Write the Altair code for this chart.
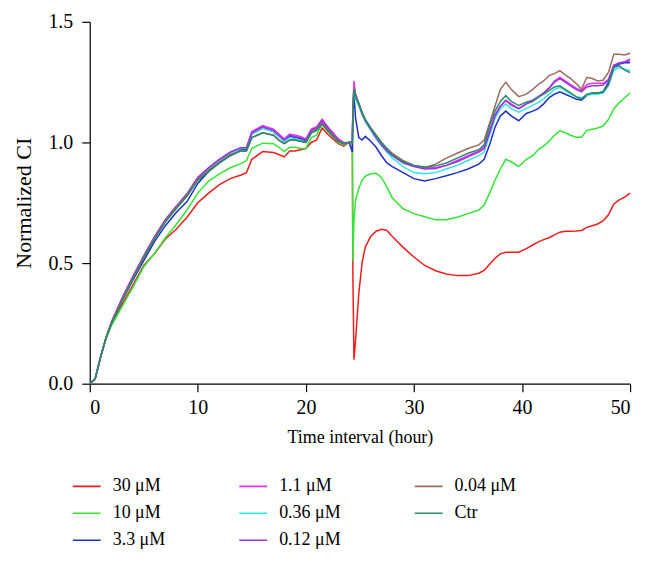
import altair as alt
import pandas as pd

# time grid (hours)
T = [0, 0.5, 1, 1.5, 2, 3, 4, 5, 6, 7, 8, 9, 10, 11, 12, 13, 14, 14.5, 15, 16, 17, 17.5, 18, 18.5, 19, 19.5,
     20, 20.5, 21, 21.5, 22, 22.5, 23, 23.5, 24, 24.3,
     24.35, 24.45, 24.6, 24.9, 25.2, 25.5, 26, 26.5, 27, 27.5, 28, 29, 30, 31, 32, 33, 34, 35, 36, 36.5,
     37, 37.5, 38, 38.5, 39, 39.7, 40.4, 41, 41.5, 42, 42.5, 43, 43.5, 44, 44.5, 45, 45.5, 46, 46.5,
     47, 47.5, 48, 48.5, 49, 49.5, 50]

s30 = [0, 0.02, 0.11, 0.185, 0.245, 0.33, 0.41, 0.49, 0.54, 0.60, 0.64, 0.69, 0.75, 0.79, 0.825, 0.85, 0.865, 0.875,
       0.93, 0.962, 0.958, 0.95, 0.94, 0.965, 0.965, 0.97, 0.975, 1.0, 1.01, 1.06, 1.035, 1.015, 0.995, 0.985, 1.0, 1.0,
       0.45, 0.10, 0.18, 0.375, 0.50, 0.567, 0.61, 0.632, 0.64, 0.635, 0.61, 0.565, 0.525, 0.49, 0.468, 0.455, 0.448,
       0.448, 0.458, 0.47, 0.495, 0.52, 0.538, 0.545, 0.545, 0.545, 0.56, 0.575, 0.588, 0.597, 0.605, 0.617, 0.628,
       0.632, 0.632, 0.633, 0.635, 0.648, 0.655, 0.662, 0.675, 0.70, 0.745, 0.762, 0.773, 0.79]
s10 = [0, 0.02, 0.11, 0.185, 0.24, 0.32, 0.40, 0.485, 0.54, 0.605, 0.66, 0.72, 0.79, 0.84, 0.87, 0.895, 0.912, 0.925,
       0.975, 0.997, 0.995, 0.98, 0.962, 0.98, 0.98, 0.975, 0.975, 1.02, 1.03, 1.08, 1.045, 1.025, 1.0, 0.99, 1.0, 1.0,
       0.51, 0.68, 0.76, 0.81, 0.843, 0.86, 0.87, 0.872, 0.855, 0.815, 0.77, 0.725, 0.705, 0.692, 0.68, 0.68, 0.69,
       0.705, 0.72, 0.74, 0.79, 0.843, 0.89, 0.93, 0.92, 0.90, 0.93, 0.945, 0.97, 0.985, 1.005, 1.03, 1.048, 1.04,
       1.03, 1.022, 1.022, 1.05, 1.055, 1.06, 1.068, 1.095, 1.14, 1.165, 1.185, 1.205]
s3_3 = [0, 0.02, 0.11, 0.19, 0.25, 0.345, 0.43, 0.51, 0.59, 0.655, 0.71, 0.755, 0.83, 0.88, 0.915, 0.945, 0.97, 0.97,
        1.035, 1.06, 1.045, 1.025, 1.005, 1.025, 1.02, 1.015, 1.005, 1.05, 1.06, 1.095, 1.065, 1.04, 1.01, 0.995, 1.0, 0.96,
        1.10, 1.20, 1.10, 1.02, 1.01, 1.025, 1.005, 0.98, 0.945, 0.915, 0.90, 0.875, 0.85, 0.84, 0.85, 0.862, 0.875,
        0.89, 0.91, 0.93, 0.99, 1.063, 1.11, 1.13, 1.11, 1.09, 1.12, 1.13, 1.14, 1.16, 1.185, 1.20, 1.21, 1.20,
        1.19, 1.18, 1.175, 1.195, 1.205, 1.205, 1.21, 1.25, 1.315, 1.325, 1.33, 1.33]
s1_1 = [0, 0.02, 0.11, 0.19, 0.255, 0.355, 0.445, 0.53, 0.61, 0.68, 0.735, 0.787, 0.855, 0.895, 0.93, 0.96, 0.978, 0.978,
        1.045, 1.07, 1.055, 1.035, 1.015, 1.035, 1.03, 1.025, 1.015, 1.055, 1.065, 1.095, 1.065, 1.04, 1.015, 1.0, 1.0, 1.0,
        1.15, 1.255, 1.20, 1.16, 1.12, 1.09, 1.055, 1.025, 0.995, 0.97, 0.95, 0.92, 0.905, 0.895, 0.895, 0.905, 0.925,
        0.945, 0.965, 0.985, 1.05, 1.115, 1.15, 1.175, 1.16, 1.14, 1.16, 1.175, 1.19, 1.205, 1.225, 1.255, 1.27, 1.255,
        1.24, 1.225, 1.215, 1.24, 1.245, 1.245, 1.245, 1.26, 1.32, 1.33, 1.335, 1.345]
s0_36 = [0, 0.02, 0.11, 0.19, 0.25, 0.35, 0.44, 0.525, 0.605, 0.675, 0.73, 0.782, 0.85, 0.89, 0.925, 0.955, 0.975, 0.975,
         1.035, 1.06, 1.045, 1.025, 1.005, 1.02, 1.015, 1.01, 1.0, 1.04, 1.05, 1.075, 1.05, 1.03, 1.005, 0.995, 1.0, 1.0,
         1.12, 1.21, 1.18, 1.15, 1.115, 1.085, 1.05, 1.015, 0.985, 0.96, 0.935, 0.90, 0.875, 0.87, 0.875, 0.89, 0.905,
         0.925, 0.945, 0.96, 1.03, 1.10, 1.14, 1.16, 1.14, 1.125, 1.14, 1.155, 1.165, 1.18, 1.20, 1.22, 1.228, 1.215,
         1.20, 1.19, 1.185, 1.195, 1.20, 1.20, 1.205, 1.235, 1.30, 1.31, 1.305, 1.298]
s0_12 = [0, 0.02, 0.11, 0.19, 0.255, 0.355, 0.445, 0.53, 0.61, 0.68, 0.735, 0.787, 0.855, 0.895, 0.93, 0.96, 0.978, 0.978,
         1.04, 1.065, 1.05, 1.03, 1.01, 1.03, 1.025, 1.02, 1.01, 1.05, 1.06, 1.09, 1.06, 1.035, 1.01, 0.995, 1.0, 1.0,
         1.13, 1.225, 1.195, 1.16, 1.12, 1.09, 1.055, 1.02, 0.99, 0.965, 0.945, 0.915, 0.90, 0.89, 0.892, 0.905, 0.92,
         0.94, 0.96, 0.975, 1.04, 1.11, 1.15, 1.174, 1.155, 1.14, 1.16, 1.17, 1.187, 1.205, 1.225, 1.25, 1.265, 1.25,
         1.235, 1.22, 1.21, 1.23, 1.235, 1.235, 1.238, 1.26, 1.32, 1.328, 1.333, 1.34]
s0_04 = [0, 0.02, 0.11, 0.19, 0.25, 0.35, 0.44, 0.525, 0.605, 0.675, 0.73, 0.782, 0.848, 0.885, 0.92, 0.95, 0.965, 0.965,
         1.02, 1.04, 1.03, 1.01, 0.995, 1.01, 1.01, 1.005, 1.0, 1.04, 1.055, 1.08, 1.055, 1.03, 1.005, 0.995, 1.0, 1.0,
         1.12, 1.23, 1.20, 1.16, 1.125, 1.095, 1.06, 1.03, 1.0, 0.975, 0.955, 0.925, 0.905, 0.895, 0.91, 0.935, 0.955,
         0.975, 0.99, 1.01, 1.08, 1.15, 1.22, 1.25, 1.22, 1.19, 1.20, 1.22, 1.24, 1.255, 1.277, 1.285, 1.298, 1.28,
         1.265, 1.245, 1.22, 1.27, 1.265, 1.255, 1.258, 1.29, 1.366, 1.366, 1.363, 1.37]
ctr = [0, 0.02, 0.11, 0.19, 0.25, 0.345, 0.435, 0.52, 0.60, 0.67, 0.725, 0.777, 0.843, 0.88, 0.915, 0.945, 0.965, 0.965,
       1.02, 1.04, 1.03, 1.01, 0.995, 1.01, 1.01, 1.005, 1.0, 1.04, 1.05, 1.075, 1.05, 1.025, 1.005, 0.995, 1.0, 1.0,
       1.13, 1.22, 1.19, 1.16, 1.125, 1.095, 1.06, 1.03, 1.0, 0.975, 0.95, 0.92, 0.905, 0.898, 0.903, 0.915, 0.935,
       0.955, 0.97, 0.99, 1.07, 1.13, 1.17, 1.194, 1.17, 1.153, 1.167, 1.175, 1.187, 1.20, 1.215, 1.23, 1.235, 1.22,
       1.205, 1.19, 1.18, 1.20, 1.205, 1.205, 1.208, 1.24, 1.31, 1.318, 1.30, 1.29]

series_names = ["30 μM", "10 μM", "3.3 μM", "1.1 μM", "0.36 μM", "0.12 μM", "0.04 μM", "Ctr"]
series_values = [s30, s10, s3_3, s1_1, s0_36, s0_12, s0_04, ctr]
series_colors = ["#f01c1c", "#33e633", "#1f2ec4", "#ee33ee", "#33e6e6", "#9433e0", "#9c6a5e", "#2a8a6c"]

rows = []
for name, vals in zip(series_names, series_values):
    for t, v in zip(T, vals):
        rows.append({"t": t, "v": v, "series": name})
df = pd.DataFrame(rows)

FONT = "Liberation Serif"

x = alt.X("t:Q", title="Time interval (hour)",
          scale=alt.Scale(domain=[0, 50], nice=False),
          axis=alt.Axis(values=[0, 10, 20, 30, 40, 50], format="d", labelPadding=6,
                        titlePadding=11, titleFontSize=18))
y = alt.Y("v:Q", title="Normalized CI",
          scale=alt.Scale(domain=[0, 1.5], nice=False),
          axis=alt.Axis(values=[0, 0.5, 1.0, 1.5], format=".1f", labelPadding=9,
                        titlePadding=12, titleFontSize=22))
color = alt.Color("series:N", title=None,
                  scale=alt.Scale(domain=series_names, range=series_colors),
                  legend=alt.Legend(orient="none", legendX=-18, legendY=457, columns=3,
                                    columnPadding=73, rowPadding=9, clipHeight=18,
                                    symbolType="stroke", symbolSize=784, symbolStrokeWidth=1.6,
                                    labelOffset=11, padding=0))

layers = []
for name in series_names:
    layers.append(
        alt.Chart(df).transform_filter(alt.datum.series == name)
        .mark_line(strokeWidth=1.5)
        .encode(x=x, y=y, color=color)
    )

chart = alt.layer(*layers).properties(
    width=542, height=363,
    padding={"left": 82, "top": 13, "right": 20, "bottom": 180},
    autosize="none",
).configure_view(stroke=None).configure_axis(
    grid=False, domainColor="#000", tickColor="#000", domainWidth=1.2, tickWidth=1.2,
    tickSize=8, labelFont=FONT, titleFont=FONT, labelFontSize=20,
    labelColor="#000", titleColor="#000", titleFontWeight="normal",
).configure_legend(
    labelFont=FONT, labelFontSize=18, labelColor="#000"
)

chart.save("out.html", embed_options={"renderer": "svg", "actions": False})
